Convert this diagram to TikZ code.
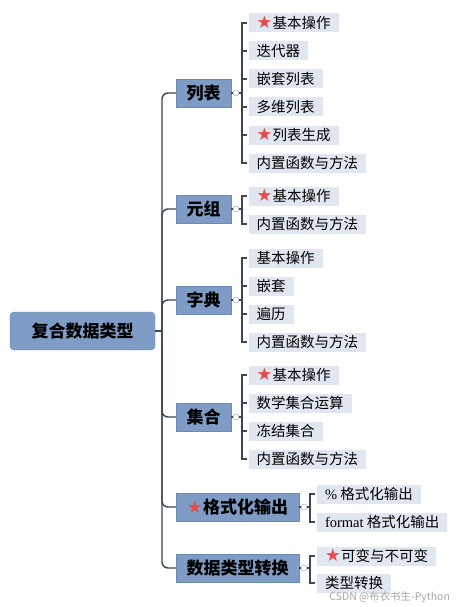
\documentclass[tikz,border=0pt]{standalone}
\usepackage{fontspec}
\setmainfont{Liberation Serif}
\newfontfamily\cjk{Noto Sans CJK SC}
\newfontfamily\symfont{DejaVu Sans}
\newfontfamily\latinfont{Liberation Serif}
\usetikzlibrary{positioning}

\definecolor{topfill}{HTML}{7F9CC6}
\definecolor{topline}{HTML}{6C89B4}
\definecolor{leaffill}{HTML}{E0E7F0}
\definecolor{linkcol}{HTML}{3B4656}
\definecolor{starred}{HTML}{E84B4B}
\definecolor{knobcol}{HTML}{A9B6CB}
\newcommand{\Star}{{\symfont\fontsize{17.5}{17}\selectfont\color{starred}★}\hspace{0.5pt}}

\begin{document}
\begin{tikzpicture}[x=1pt,y=-1pt,every node/.style={inner sep=0pt,outer sep=0pt},
		rootbox/.style={fill=topfill,draw=topline,rounded corners=4pt,minimum width=145pt,minimum height=38pt,font=\cjk\bfseries\fontsize{17}{17}\selectfont},
		topicbox/.style={fill=topfill,draw=topline,anchor=west,minimum height=28pt,font=\cjk\bfseries\fontsize{17}{17}\selectfont},
		leafbox/.style={fill=leaffill,anchor=west,inner xsep=8pt,minimum height=19pt,font=\cjk\fontsize{14.5}{15}\selectfont},
		knob/.style={circle,draw=knobcol,fill=white,minimum size=6pt,line width=0.6pt},
		trunk/.style={draw=linkcol,line width=1.4pt,rounded corners=6pt},
		branch/.style={draw=linkcol,line width=1.2pt}]
		\useasboundingbox (0,0) rectangle (462,607);
		
		% Root and the hub on the trunk
		\node[rootbox] (root) at (82.5,331) {复合数据类型};
		\coordinate (hub) at ([xshift=7pt]root.east);
		\draw[trunk] (root.east) -- (hub);
		
		% Topics: {name, y, width, text}
		\foreach \nm/\y/\w/\txt in {list/93/55/列表, tuple/209/55/元组, dict/300/55/字典, set/417/55/集合, fmt/507/123/{\Star{}格式化输出}, conv/568/123/数据类型转换}{
			\node[topicbox,minimum width=\w pt] (\nm) at (176,\y) {\txt};
			\node[knob] (\nm-k) at ([xshift=5pt]\nm.east) {};
			\draw[trunk] (hub) |- (\nm.west);% Trunk to the topic
			\draw[branch] (\nm.east) -- (\nm-k.west);
		}
		
		% Leaves of 列表
		\foreach \i/\y/\txt in {1/23/{\Star{}基本操作}, 2/51/迭代器, 3/79/嵌套列表, 4/107/多维列表, 5/135/{\Star{}列表生成}, 6/163/内置函数与方法}{
			\node[leafbox] (list-\i) at (248.5,\y) {\txt};
			\draw[branch] (list-k.east) -- ++(3,0) |- ([xshift=-2pt]list-\i.west);
		}
		% Leaves of 元组
		\foreach \i/\y/\txt in {1/196/{\Star{}基本操作}, 2/224/内置函数与方法}{
			\node[leafbox] (tuple-\i) at (248.5,\y) {\txt};
			\draw[branch] (tuple-k.east) -- ++(3,0) |- ([xshift=-2pt]tuple-\i.west);
		}
		% Leaves of 字典
		\foreach \i/\y/\txt in {1/258/基本操作, 2/286/嵌套, 3/314/遍历, 4/342/内置函数与方法}{
			\node[leafbox] (dict-\i) at (248.5,\y) {\txt};
			\draw[branch] (dict-k.east) -- ++(3,0) |- ([xshift=-2pt]dict-\i.west);
		}
		% Leaves of 集合
		\foreach \i/\y/\txt in {1/375/{\Star{}基本操作}, 2/403/数学集合运算, 3/431/冻结集合, 4/459/内置函数与方法}{
			\node[leafbox] (set-\i) at (248.5,\y) {\txt};
			\draw[branch] (set-k.east) -- ++(3,0) |- ([xshift=-2pt]set-\i.west);
		}
		% Leaves of 格式化输出
		\foreach \i/\y/\txt in {1/494/{{\latinfont\%} 格式化输出}, 2/522/{{\latinfont format} 格式化输出}}{
			\node[leafbox] (fmt-\i) at (317,\y) {\txt};
			\draw[branch] (fmt-k.east) -- ++(3,0) |- ([xshift=-2pt]fmt-\i.west);
		}
		% Leaves of 数据类型转换
		\foreach \i/\y/\txt in {1/556/{\Star{}可变与不可变}, 2/583/类型转换}{
			\node[leafbox] (conv-\i) at (317,\y) {\txt};
			\draw[branch] (conv-k.east) -- ++(3,0) |- ([xshift=-2pt]conv-\i.west);
		}
		
		% Watermark
		\node[anchor=east,text=black!35,font=\cjk\fontsize{10.5}{11}\selectfont] (mark) at (450,597) {CSDN @布衣书生-Python};
	\end{tikzpicture}
\end{document}
